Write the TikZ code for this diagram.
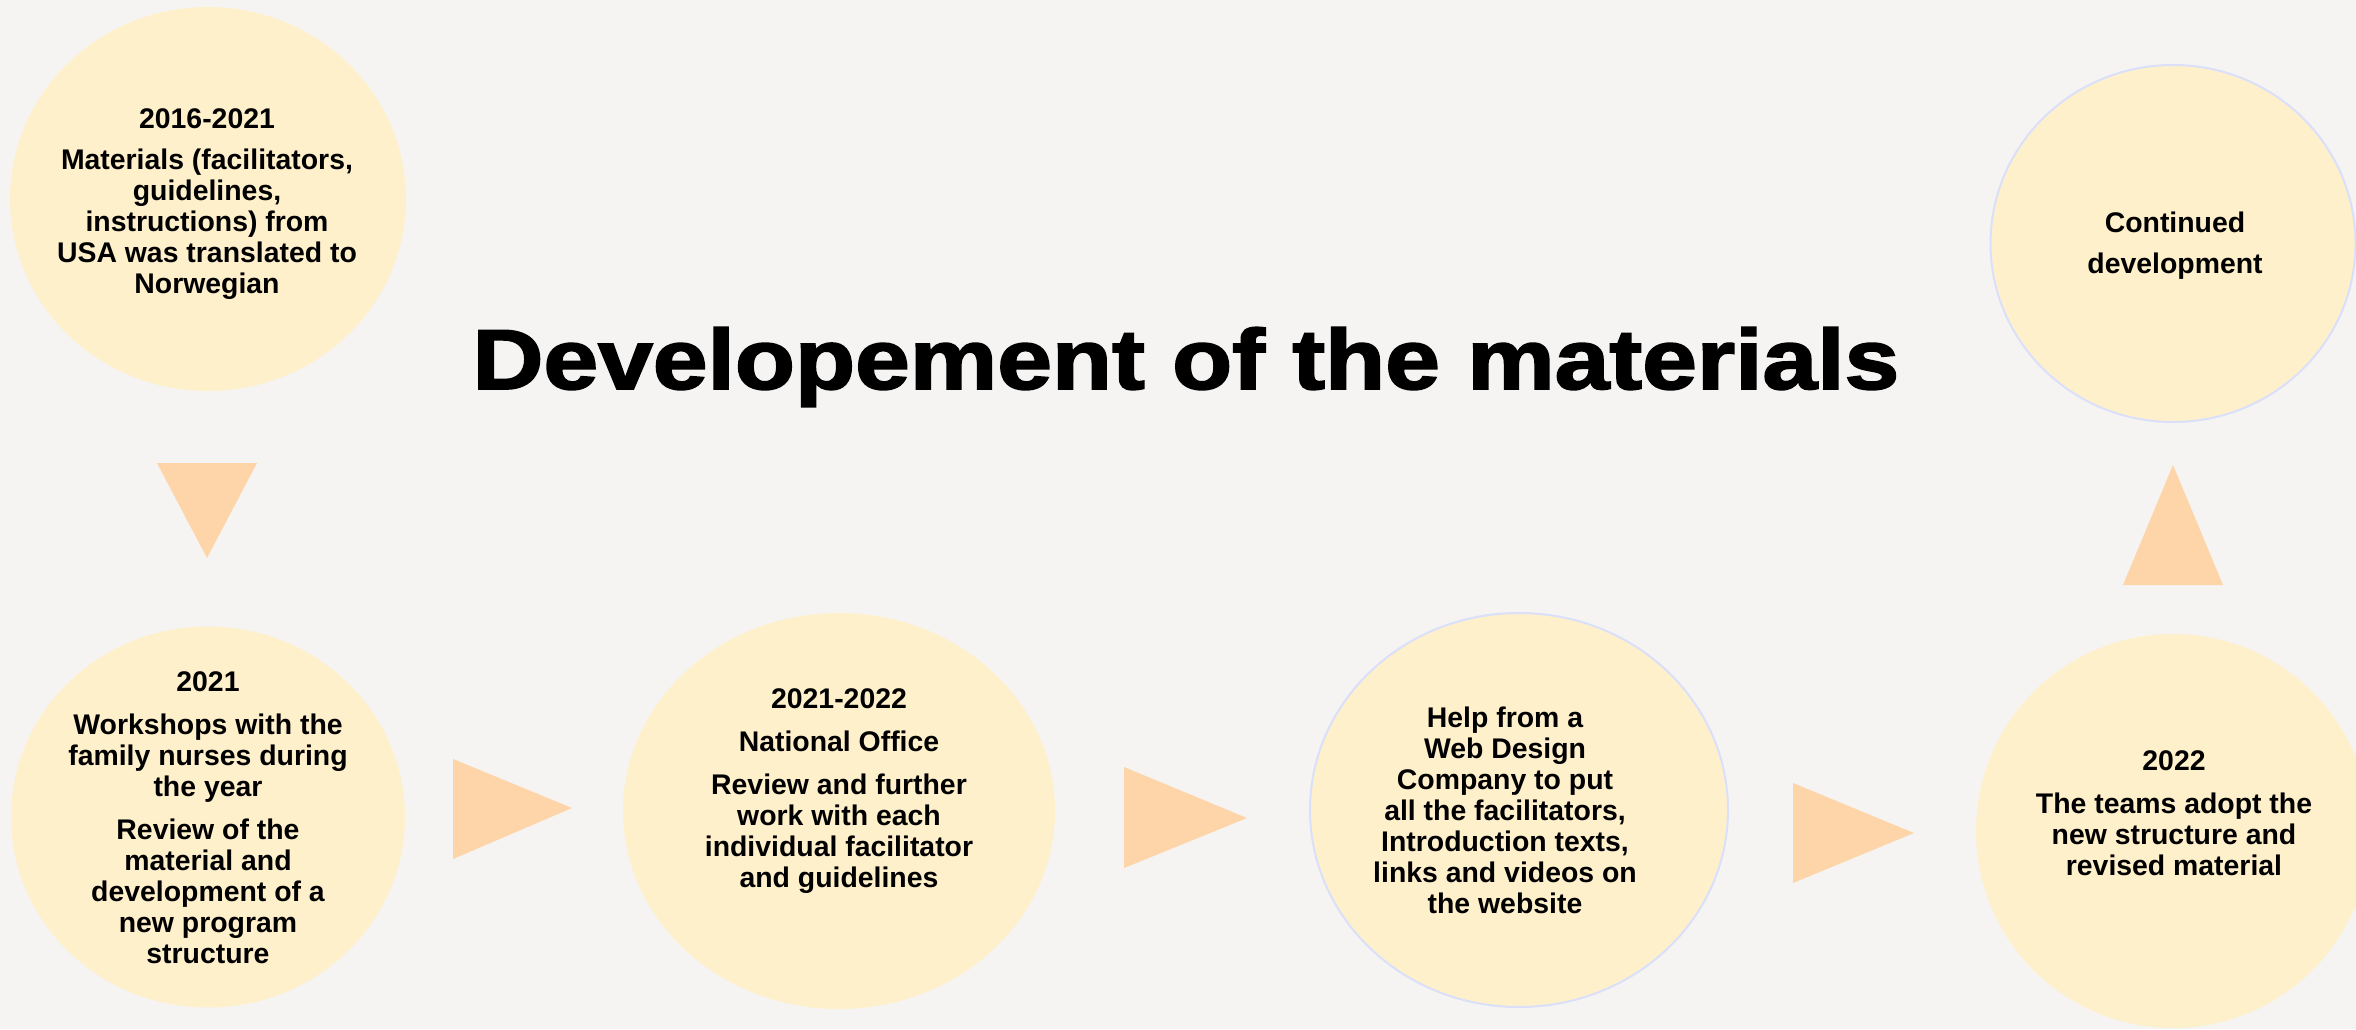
\documentclass[tikz,border=0pt]{standalone}
\usepackage{fontspec}
\setmainfont{Liberation Sans}
\newfontfamily\titlefont{Liberation Sans}[BoldFeatures={FakeBold=2}]
\usetikzlibrary{shapes.geometric}
\definecolor{bgcol}{RGB}{245,244,242}
\definecolor{bubblefill}{RGB}{255,240,204}
\definecolor{arrowfill}{RGB}{253,213,168}
\definecolor{rimblue}{RGB}{218,224,250}
\tikzset{
  bubble/.style={ellipse, fill=bubblefill, inner sep=0pt},
  rimmed/.style={draw=rimblue, line width=1pt},
  label text/.style={inner sep=0pt, anchor=north, align=center, text=black,
    font=\fontsize{14.2pt}{15.5pt}\selectfont\bfseries},
  pointer/.style={fill=arrowfill}
}
\begin{document}
\begin{tikzpicture}[x=0.5pt,y=-0.5pt]
\fill[bgcol] (0,0) rectangle (2356,1029);
\useasboundingbox (0,0) rectangle (2356,1029);
\clip (0,0) rectangle (2356,1029);

% bubbles
\node[bubble, minimum width=198pt, minimum height=192pt] (e1) at (208,199) {};
\node[bubble, minimum width=197pt, minimum height=190.5pt] (e2) at (208,817) {};
\node[bubble, minimum width=216pt, minimum height=198pt] (e3) at (839,811) {};
\node[bubble, rimmed, minimum width=209pt, minimum height=197pt] (e4) at (1519,810) {};
\node[bubble, minimum width=197pt, minimum height=197pt] (e5) at (2173,831) {};
\node[bubble, rimmed, minimum width=182.5pt, minimum height=178.5pt] (e6) at (2173,243.5) {};

% texts
\node[label text] (t1) at (207,108) {2016-2021\\[5pt]Materials (facilitators,\\guidelines,\\instructions) from\\USA was translated to\\Norwegian};
\node[label text] (t2) at (208,671) {2021\\[6pt]Workshops with the\\family nurses during\\the year\\[6pt]Review of the\\material and\\development of a\\new program\\structure};
\node[label text] (t3) at (839,688) {2021-2022\\[6pt]National Office\\[6pt]Review and further\\work with each\\individual facilitator\\and guidelines};
\node[label text] (t4) at (1505,707) {Help from a\\Web Design\\Company to put\\all the facilitators,\\Introduction texts,\\links and videos on\\the website};
\node[label text] (t5) at (2174,750) {2022\\[6pt]The teams adopt the\\new structure and\\revised material};
\node[label text] (t6) at (2175,212) {Continued\\[5pt]development};

% title
\node[inner sep=0pt, anchor=base west] (title) at (472,389)
  {\resizebox{713.5pt}{\height}{\fontsize{42.6pt}{48pt}\selectfont\titlefont\bfseries Developement of the materials}};

% pointers
\fill[pointer] (157,463) -- (257,463) -- (207,558) -- cycle;
\fill[pointer] (453,759) -- (453,859) -- (572,808) -- cycle;
\fill[pointer] (1124,767) -- (1124,868) -- (1247,818) -- cycle;
\fill[pointer] (1793,783) -- (1793,883) -- (1914,833) -- cycle;
\fill[pointer] (2123,585) -- (2223,585) -- (2173,465) -- cycle;
\end{tikzpicture}
\end{document}
